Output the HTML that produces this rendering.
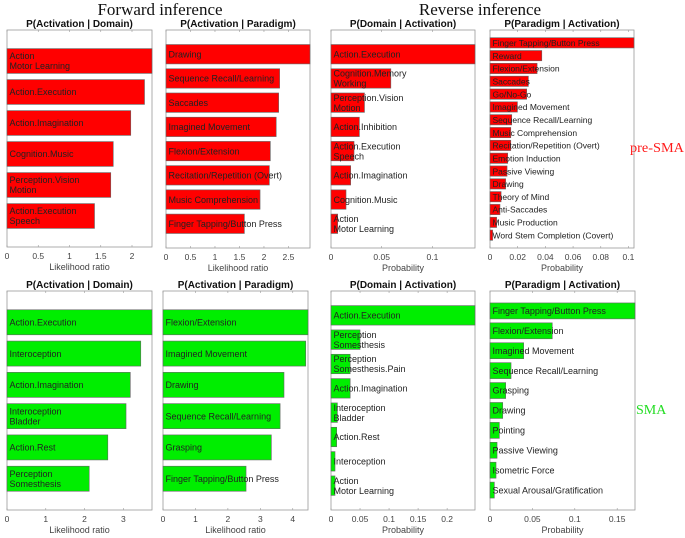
<!DOCTYPE html>
<html><head><meta charset="utf-8"><style>
html,body{margin:0;padding:0;background:#fff;width:685px;height:538px;overflow:hidden}
svg{display:block;font-family:"Liberation Sans",sans-serif}
</style></head><body>
<svg id="fig" width="685" height="538" viewBox="0 0 685 538" xmlns="http://www.w3.org/2000/svg">
<text x="160" y="15" text-anchor="middle" font-family="Liberation Serif,serif" font-size="17" fill="#111">Forward inference</text>
<text x="480" y="15" text-anchor="middle" font-family="Liberation Serif,serif" font-size="17" fill="#111">Reverse inference</text>
<text id="preSma" x="630" y="152" font-family="Liberation Serif,serif" font-size="14" textLength="54" lengthAdjust="spacingAndGlyphs" fill="#ff1a1a">pre-SMA</text>
<text id="sma" x="636" y="414" font-family="Liberation Serif,serif" font-size="14" fill="#22dd22">SMA</text>
</svg>
<script>
// Panel 1: P(Activation | Domain), pre-SMA
const p1Cats = ["Action\nMotor Learning","Action.Execution","Action.Imagination","Cognition.Music","Perception.Vision\nMotion","Action.Execution\nSpeech"];
const p1Vals = [2.32,2.2,1.98,1.70,1.66,1.40];
const p1Ticks = [0,0.5,1,1.5,2];
// Panel 2: P(Activation | Paradigm), pre-SMA
const p2Cats = ["Drawing","Sequence Recall/Learning","Saccades","Imagined Movement","Flexion/Extension","Recitation/Repetition (Overt)","Music Comprehension","Finger Tapping/Button Press"];
const p2Vals = [2.94,2.32,2.30,2.25,2.13,2.11,1.92,1.60];
const p2Ticks = [0,0.5,1,1.5,2,2.5];
// Panel 3: P(Domain | Activation), pre-SMA
const p3Cats = ["Action.Execution","Cognition.Memory\nWorking","Perception.Vision\nMotion","Action.Inhibition","Action.Execution\nSpeech","Action.Imagination","Cognition.Music","Action\nMotor Learning"];
const p3Vals = [0.142,0.059,0.033,0.028,0.0227,0.0194,0.0148,0.0066];
const p3Ticks = [0,0.05,0.1];
// Panel 4: P(Paradigm | Activation), pre-SMA
const p4Cats = ["Finger Tapping/Button Press","Reward","Flexion/Extension","Saccades","Go/No-Go","Imagined Movement","Sequence Recall/Learning","Music Comprehension","Recitation/Repetition (Overt)","Emotion Induction","Passive Viewing","Drawing","Theory of Mind","Anti-Saccades","Music Production","Word Stem Completion (Covert)"];
const p4Vals = [0.104,0.0374,0.034,0.0277,0.0265,0.0198,0.0157,0.015,0.015,0.0128,0.0123,0.0113,0.008,0.0072,0.0048,0.0019];
const p4Ticks = [0,0.02,0.04,0.06,0.08,0.1];
// Panel 5: P(Activation | Domain), SMA
const p5Cats = ["Action.Execution","Interoception","Action.Imagination","Interoception\nBladder","Action.Rest","Perception\nSomesthesis"];
const p5Vals = [3.74,3.45,3.18,3.07,2.60,2.12];
const p5Ticks = [0,1,2,3];
// Panel 6: P(Activation | Paradigm), SMA
const p6Cats = ["Flexion/Extension","Imagined Movement","Drawing","Sequence Recall/Learning","Grasping","Finger Tapping/Button Press"];
const p6Vals = [4.47,4.40,3.73,3.61,3.34,2.56];
const p6Ticks = [0,1,2,3,4];
// Panel 7: P(Domain | Activation), SMA
const p7Cats = ["Action.Execution","Perception\nSomesthesis","Perception\nSomesthesis.Pain","Action.Imagination","Interoception\nBladder","Action.Rest","Interoception","Action\nMotor Learning"];
const p7Vals = [0.248,0.050,0.033,0.033,0.011,0.0098,0.0069,0.0069];
const p7Ticks = [0,0.05,0.1,0.15,0.2];
// Panel 8: P(Paradigm | Activation), SMA
const p8Cats = ["Finger Tapping/Button Press","Flexion/Extension","Imagined Movement","Sequence Recall/Learning","Grasping","Drawing","Pointing","Passive Viewing","Isometric Force","Sexual Arousal/Gratification"];
const p8Vals = [0.171,0.0734,0.0397,0.0248,0.0185,0.015,0.011,0.0083,0.0071,0.0051];
const p8Ticks = [0,0.05,0.1,0.15];

const NS="http://www.w3.org/2000/svg";
const svg=document.getElementById('fig');
function mk(tag,attrs,parent){const e=document.createElementNS(NS,tag);for(const k in attrs)e.setAttribute(k,attrs[k]);(parent||svg).appendChild(e);return e;}

function panel(id,title,xlabel,cats,vals,ticks,xmax,box,color){
  const g=mk('g',{});
  
  
  const [L,T,R,B]=box;
  const n=cats.length, rows=n+1;
  const xs=v=>L+(v/xmax)*(R-L);
  const ys=i=>T+(i+1)*(B-T)/rows;
  const bh=0.8*(B-T)/rows;
  const t=mk('text',{x:(L+R)/2,y:T-3,'text-anchor':'middle','font-size':10,'font-weight':'bold',fill:'#111'},g);
  t.textContent=title;
  
  
  const fr=mk('rect',{x:L,y:T,width:R-L,height:B-T,fill:'#fff',stroke:'#999','stroke-width':0.8},g);
  
  
  cats.forEach((c,i)=>{
    const w=Math.max(0,xs(Math.min(vals[i],xmax))-L);
    const r=mk('rect',{x:L,y:ys(i)-bh/2,width:w,height:bh,fill:color,stroke:'#666','stroke-width':0.6},g);
    
    
    const lines=c.split('\n');
    const fs=n>12?8.5:9;
    lines.forEach((ln,j)=>{
      const off=(j-(lines.length-1)/2)*10;
      const tx=mk('text',{x:L+2.5,y:ys(i)+off+3.2,'font-size':fs,fill:'#222'},g);
      tx.textContent=ln;
      
      
    });
  });
  ticks.forEach(tv=>{
    const x=xs(tv);
    mk('line',{x1:x,x2:x,y1:B,y2:B-2,stroke:'#999','stroke-width':0.6},g);
    mk('line',{x1:x,x2:x,y1:T,y2:T+2,stroke:'#999','stroke-width':0.6},g);
    const tl=mk('text',{x:x,y:B+12,'text-anchor':'middle','font-size':8.5,fill:'#444'},g);
    tl.textContent=String(tv);
    
    
  });
  const xl=mk('text',{x:(L+R)/2,y:B+23,'text-anchor':'middle','font-size':9,fill:'#444'},g);
  xl.textContent=xlabel;
  
  
}
const RED='#ff0000', GREEN='#00ee00';
panel('p1','P(Activation | Domain)','Likelihood ratio',p1Cats,p1Vals,p1Ticks,2.32,[7,30,152,247],RED);
panel('p2','P(Activation | Paradigm)','Likelihood ratio',p2Cats,p2Vals,p2Ticks,2.94,[166,30,310,248],RED);
panel('p3','P(Domain | Activation)','Probability',p3Cats,p3Vals,p3Ticks,0.142,[331,30,475,248],RED);
panel('p4','P(Paradigm | Activation)','Probability',p4Cats,p4Vals,p4Ticks,0.104,[490,30,634,248],RED);
panel('p5','P(Activation | Domain)','Likelihood ratio',p5Cats,p5Vals,p5Ticks,3.74,[7,291,152,510],GREEN);
panel('p6','P(Activation | Paradigm)','Likelihood ratio',p6Cats,p6Vals,p6Ticks,4.47,[163,291,308,510],GREEN);
panel('p7','P(Domain | Activation)','Probability',p7Cats,p7Vals,p7Ticks,0.248,[331,291,475,510],GREEN);
panel('p8','P(Paradigm | Activation)','Probability',p8Cats,p8Vals,p8Ticks,0.171,[490,291,635,510],GREEN);
svg.appendChild(document.getElementById('preSma'));
svg.appendChild(document.getElementById('sma'));
</script>
</body></html>
